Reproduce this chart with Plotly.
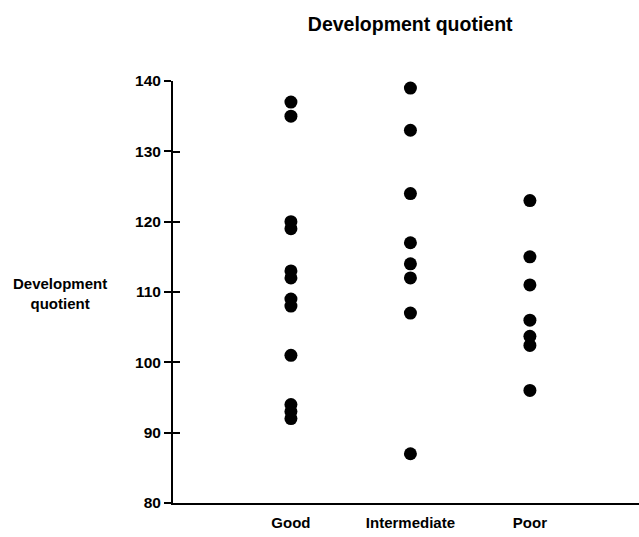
import plotly.graph_objects as go

categories = ["Good", "Intermediate", "Poor"]
good = [137, 135, 120, 119, 113, 112, 109, 108, 101, 94, 93, 92]
intermediate = [139, 133, 124, 117, 114, 112, 107, 87]
poor = [123, 115, 111, 106, 103.7, 102.4, 96]
y_ticks = [80, 90, 100, 110, 120, 130, 140]

groups = [good, intermediate, poor]
xs, ys = [], []
for cat, vals in zip(categories, groups):
    xs += [cat] * len(vals)
    ys += vals

FONT = "Liberation Sans, Arial, sans-serif"

fig = go.Figure()
fig.add_trace(go.Scatter(
    x=xs, y=ys, mode="markers",
    marker=dict(size=13, color="black", line=dict(width=0)),
    showlegend=False, hoverinfo="x+y",
))
# empty trace hosting the overlaying axis that draws the inside half of the cross ticks
fig.add_trace(go.Scatter(x=[], y=[], yaxis="y2", showlegend=False))

fig.update_layout(
    width=639, height=537,
    margin=dict(l=173, r=0, t=81, b=34, autoexpand=False),
    plot_bgcolor="white", paper_bgcolor="white",
    font=dict(family=FONT, color="black"),
    title=dict(text="Development quotient", x=0.509, xref="paper", xanchor="center",
               y=1 - 24 / 537, yanchor="middle",
               font=dict(size=19.5, weight="bold", family=FONT, color="black")),
    xaxis=dict(
        type="category", categoryorder="array", categoryarray=categories,
        range=[-0.987, 2.913],
        showline=True, linecolor="black", linewidth=2,
        showgrid=False, zeroline=False, ticks="",
        ticklabelstandoff=5,
        tickfont=dict(size=15, weight="bold", family=FONT, color="black"),
    ),
    yaxis=dict(
        range=[80, 140], tickvals=y_ticks,
        showline=True, linecolor="black", linewidth=2,
        showgrid=False, zeroline=False,
        ticks="outside", ticklen=7, tickwidth=1.5, tickcolor="black",
        tickfont=dict(size=15.5, weight="bold", family=FONT, color="black"),
    ),
    yaxis2=dict(
        range=[80, 140.03], tickvals=y_ticks[1:], overlaying="y", side="left",
        showline=False, showgrid=False, zeroline=False, showticklabels=False,
        ticks="inside", ticklen=7, tickwidth=1.5, tickcolor="black",
    ),
    annotations=[dict(
        text="Development<br>quotient", xref="paper", yref="paper",
        x=(60 - 173) / 466, y=(503 - 293) / 422, xanchor="center", yanchor="middle",
        showarrow=False, align="center",
        font=dict(size=15, weight="bold", family=FONT, color="black"),
    )],
)

fig.write_html(
    "out.html",
    config={"displayModeBar": False},
    post_script="document.body.style.margin='0';document.body.style.overflow='hidden';",
)
